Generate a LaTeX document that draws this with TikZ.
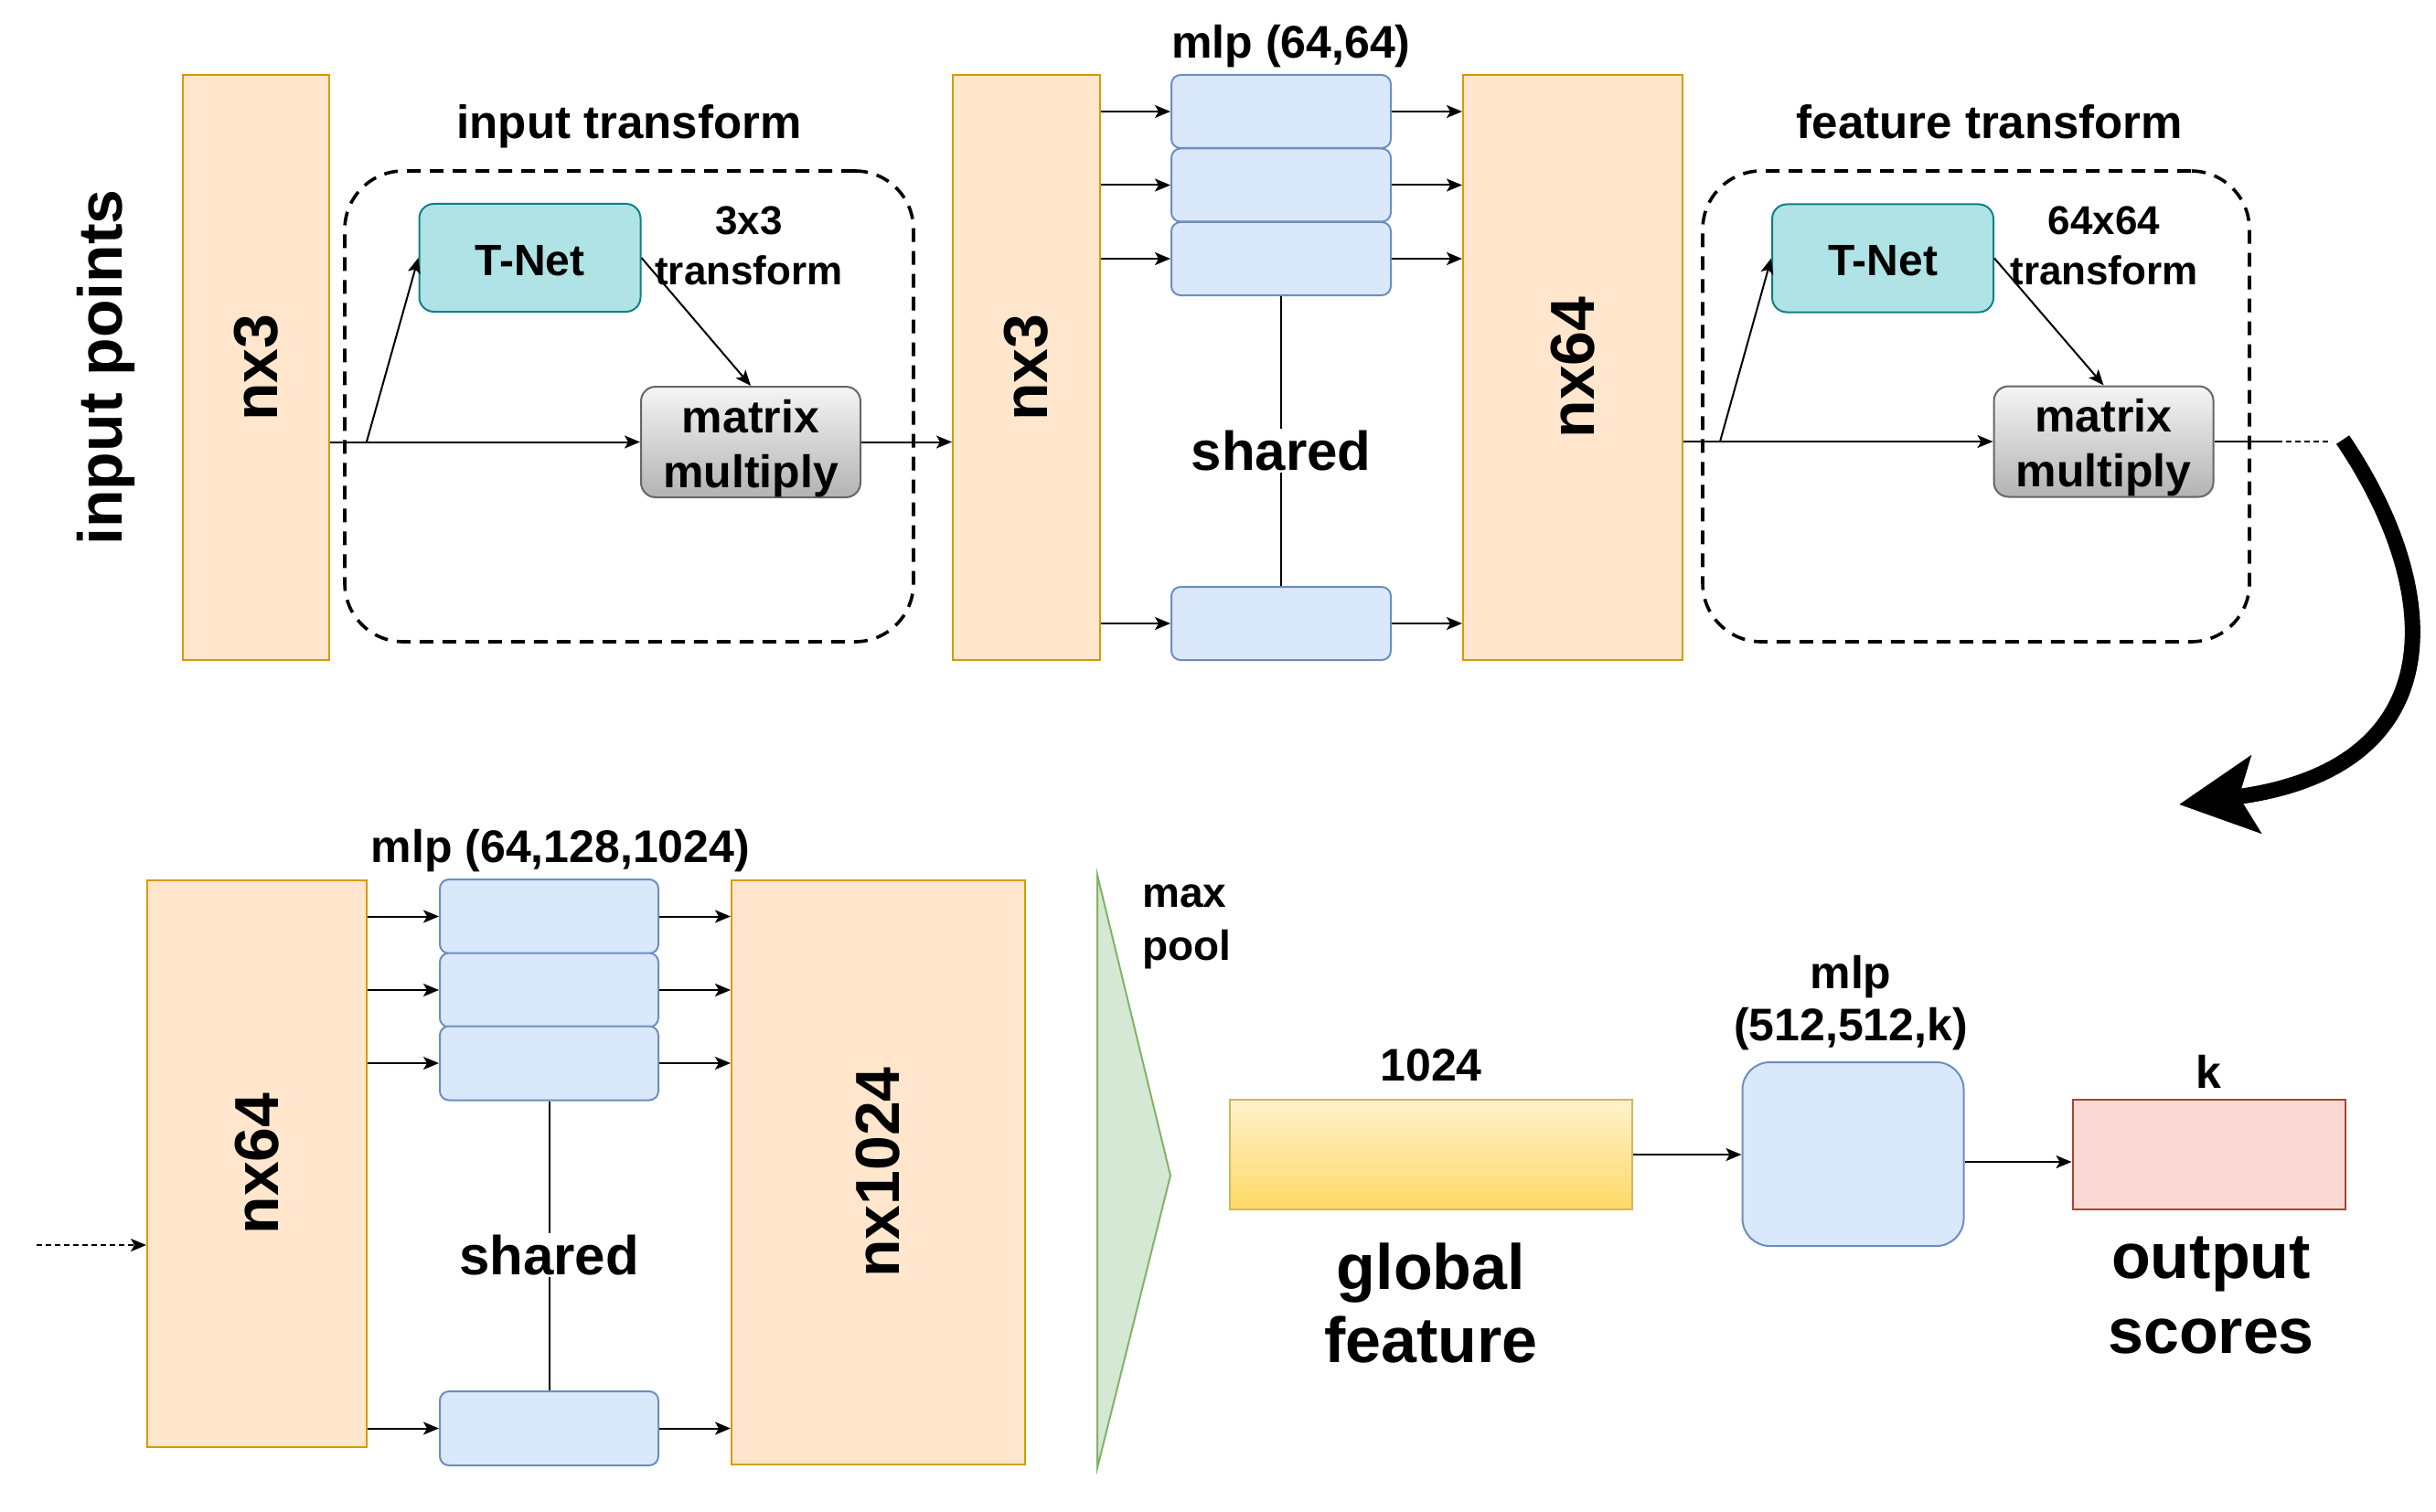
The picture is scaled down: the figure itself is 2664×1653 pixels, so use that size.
\documentclass[tikz,border=0pt]{standalone}
\usepackage{fontspec}
\setmainfont{Liberation Sans}
\usetikzlibrary{arrows.meta,calc}
\definecolor{orangeF}{HTML}{FFE6CC}
\definecolor{orangeB}{HTML}{D79B00}
\definecolor{blueF}{HTML}{DAE8FC}
\definecolor{blueB}{HTML}{6C8EBF}
\definecolor{tealF}{HTML}{B0E3E6}
\definecolor{tealB}{HTML}{0E8088}
\definecolor{greyT}{HTML}{F5F5F5}
\definecolor{greyBt}{HTML}{B3B3B3}
\definecolor{greyB}{HTML}{666666}
\definecolor{yelT}{HTML}{FFF2CC}
\definecolor{yelBt}{HTML}{FFD966}
\definecolor{yelB}{HTML}{D6B656}
\definecolor{redF}{HTML}{FAD9D5}
\definecolor{redB}{HTML}{AE4132}
\definecolor{greenF}{HTML}{D5E8D4}
\definecolor{greenB}{HTML}{82B366}
\newcommand{\fsz}[2]{\fontsize{#1}{#2}\selectfont\bfseries}
\begin{document}
\begin{tikzpicture}[x=0.5pt,y=-0.5pt,
  arr/.style={line width=1pt,-{Stealth[length=8.5pt,width=7pt,inset=2pt]}},
  ln/.style={line width=1pt},
  obox/.style={draw=orangeB,fill=orangeF,line width=1pt,inner sep=0pt},
  cell/.style={draw=blueB,fill=blueF,line width=1pt,rounded corners=5pt,inner sep=0pt},
  tnet/.style={draw=tealB,fill=tealF,line width=1pt,rounded corners=8pt,minimum width=121pt,minimum height=59pt,inner sep=0pt},
  mm/.style={draw=greyB,top color=greyT,bottom color=greyBt,line width=1pt,rounded corners=8pt,minimum width=120pt,minimum height=60.5pt,inner sep=0pt},
  dbox/.style={draw=black,line width=1.8pt,dash pattern=on 7.5pt off 5pt,rounded corners=32pt,inner sep=0pt},
  vlab/.style={rotate=90,inner sep=0pt,font=\fsz{34pt}{40pt}},
  lab/.style={font=\fsz{25pt}{30pt},align=center,inner sep=0pt},
  shr/.style={fill=white,inner sep=1pt,font=\fsz{30pt}{36pt}},
  dotl/.style={line width=1pt,dash pattern=on 3pt off 2pt},
]
\useasboundingbox (0,0) rectangle (2664,1653);

% ---------- top row ----------
\node[dbox,minimum width=311pt,minimum height=257.5pt] (db1) at (688,444.5) {};
\node[dbox,minimum width=299pt,minimum height=257.5pt] (db2) at (2161,444.5) {};

\node[vlab] (ip) at (116,402) {input points};
\node[obox,minimum width=80pt,minimum height=320pt] (A) at (280,402) {};
\node[vlab] (Atx) at (A.center) {nx3};

\node[lab,font=\fsz{25.5pt}{31pt}] (t1) at (688,138) {input transform};
\node[tnet] (T1) at (579.5,282) {};
\node[lab,font=\fsz{24pt}{29pt}] (T1t) at ($(T1.center)+(0,3)$) {T-Net};
\node[lab,font=\fsz{22pt}{27.5pt}] (x1) at (819,268.5) {3x3\\transform};
\node[mm] (M1) at (821,483.5) {};
\node[lab] (M1t) at ($(M1.center)+(0,7)$) {matrix\\multiply};

\node[obox,minimum width=80.5pt,minimum height=320pt] (B) at (1122.5,402) {};
\node[vlab] (Btx) at (B.center) {nx3};

\node[lab] (m1) at (1412,51) {mlp (64,64)};
\node[cell,minimum width=120pt,minimum height=40pt] (c1) at (1401,122) {};
\node[cell,minimum width=120pt,minimum height=40pt] (c2) at (1401,202.5) {};
\node[cell,minimum width=120pt,minimum height=40pt] (c3) at (1401,283) {};
\node[cell,minimum width=120pt,minimum height=40pt] (c4) at (1401,682) {};

\node[obox,minimum width=120pt,minimum height=320pt] (C) at (1720,402) {};
\node[vlab] (Ctx) at (C.center) {nx64};

\node[lab,font=\fsz{25.5pt}{31pt}] (t2) at (2176,133) {feature transform};
\node[tnet] (T2) at (2059,282.5) {};
\node[lab,font=\fsz{24pt}{29pt}] (T2t) at ($(T2.center)+(0,3)$) {T-Net};
\node[lab,font=\fsz{22pt}{27.5pt}] (x2) at (2301,268.5) {64x64\\transform};
\node[mm] (M2) at (2300.5,483) {};
\node[lab] (M2t) at ($(M2.center)+(0,7)$) {matrix\\multiply};

\coordinate (br1) at (401,483);
\coordinate (br2) at (1881,483);
\coordinate (s1) at (2490,483);
\coordinate (s2) at (2550,483);
\coordinate (bigS) at (2562,481);
\coordinate (bigE) at (2383,880);

\draw[arr] (A.east |- M1.west) -- (M1.west);
\draw[arr] (br1) -- (T1.west);
\draw[arr] (T1.east) -- (M1.north);
\draw[arr] (M1.east) -- (M1.east -| B.west);

\foreach \c in {c1,c2,c3,c4}{
  \draw[arr] (B.east |- \c.west) -- (\c.west);
  \draw[arr] (\c.east) -- (\c.east -| C.west);
}
\draw[ln] (c3.south) -- (c4.north) node[shr,pos=0.533] (sh1) {shared};

\draw[arr] (C.east |- M2.west) -- (M2.west);
\draw[arr] (br2) -- (T2.west);
\draw[arr] (T2.east) -- (M2.north);
\draw[ln] (M2.east) -- (s1);
\draw[dotl] (s1) -- (s2);

\draw[line width=8.5pt,-{Stealth[length=42pt,width=42pt,inset=9pt]}]
  (bigS) .. controls (2670,640) and (2690,840) .. (bigE);

% ---------- bottom row ----------
\node[obox,minimum width=120pt,minimum height=310pt] (D) at (281,1273) {};
\node[vlab] (Dtx) at (D.center) {nx64};
\coordinate (din) at (40,1362);
\draw[dotl,-{Stealth[length=8.5pt,width=7pt,inset=2pt]}] (din) -- (din -| D.west);

\node[lab] (m2) at (613,931) {mlp (64,128,1024)};
\node[cell,minimum width=119.5pt,minimum height=40.5pt] (d1) at (600.5,1002.5) {};
\node[cell,minimum width=119.5pt,minimum height=40.5pt] (d2) at (600.5,1083) {};
\node[cell,minimum width=119.5pt,minimum height=40.5pt] (d3) at (600.5,1163) {};
\node[cell,minimum width=119.5pt,minimum height=40.5pt] (d4) at (600.5,1562.5) {};

\node[obox,minimum width=160.5pt,minimum height=319.5pt] (E) at (960.5,1282.5) {};
\node[vlab] (Etx) at (E.center) {nx1024};

\foreach \c in {d1,d2,d3,d4}{
  \draw[arr] (D.east |- \c.west) -- (\c.west);
  \draw[arr] (\c.east) -- (\c.east -| E.west);
}
\draw[ln] (d3.south) -- (d4.north) node[shr,pos=0.533] (sh2) {shared};

\draw[draw=greenB,fill=greenF,line width=1pt] (1200,957) -- (1280,1286) -- (1200,1606) -- cycle;
\node[lab,align=left,anchor=west,font=\fsz{23pt}{29pt}] (mp) at (1249,1014) {max\\pool};

\node[draw=yelB,top color=yelT,bottom color=yelBt,line width=1pt,minimum width=220pt,minimum height=60pt,inner sep=0pt] (G) at (1564.5,1263) {};
\node[lab] (g1) at (1565,1165) {1024};
\node[lab,font=\fsz{35pt}{40pt}] (g2) at (1565,1425) {global\\feature};

\node[draw=blueB,fill=blueF,line width=1pt,rounded corners=15pt,minimum width=121pt,minimum height=100.5pt,inner sep=0pt] (ML) at (2026.5,1262.5) {};
\node[lab,font=\fsz{25pt}{28.5pt}] (ml) at (2024,1097) {mlp\\(512,512,k)};

\node[draw=redB,fill=redF,line width=1pt,minimum width=149pt,minimum height=60pt,inner sep=0pt] (O) at (2415.5,1263) {};
\node[lab] (k) at (2415,1172) {k};
\node[lab,font=\fsz{35pt}{41pt}] (os) at (2418,1417) {output\\scores};

\draw[arr] (G.east) -- (G.east -| ML.west);
\draw[arr] (ML.east |- 0,1271) -- (O.west |- 0,1271);
\end{tikzpicture}
\end{document}
